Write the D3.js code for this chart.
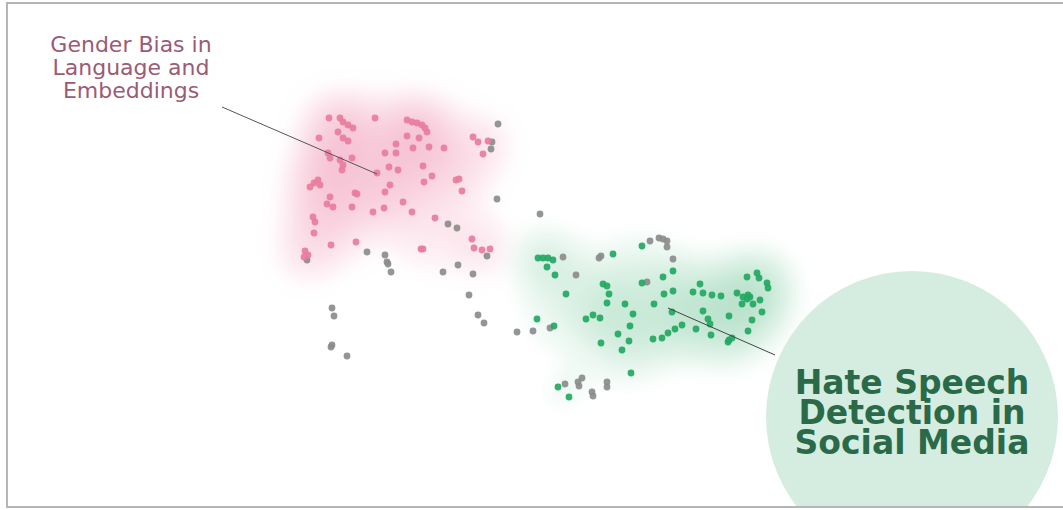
<!DOCTYPE html>
<html>
<head>
<meta charset="utf-8">
<script src="https://cdn.jsdelivr.net/npm/d3@7"></script>
<style>
  html, body { margin: 0; padding: 0; background: #fff; }
  svg { display: block; }
</style>
</head>
<body>
<div id="map"></div>
<script>
// embedding coordinates (2-d projection), one array per topic
const genderPts = [
  [329,118],[340,118],[343,122],[348,125],[353,128],[375,118],
  [407,120],[412,122],[417,123],[422,125],[425,128],[427,132],
  [338,132],[343,138],[348,141],[319,138],[407,136],[419,138],
  [396,144],[396,153],[385,153],[413,148],[429,147],[444,148],
  [328,153],[330,158],[340,160],[352,158],[343,165],[342,170],
  [389,167],[398,170],[377,173],[423,166],[432,176],[424,182],
  [390,185],[385,192],[456,180],[459,179],[462,191],
  [310,187],[314,183],[318,180],[320,185],[355,193],[357,194],
  [330,197],[327,204],[333,207],[352,207],[373,212],[384,208],
  [403,202],[412,212],[435,218],[313,217],[315,222],[314,233],
  [331,245],[356,242],[305,251],[308,255],[304,257],[421,249],[423,249],
  [472,239],[474,248],[482,250],[490,249],
  [473,137],[478,142],[483,154],[488,141]
];

const hateSpeechPts = [
  [538,258],[543,258],[548,258],[553,260],[547,267],[555,275],
  [566,294],[613,254],[642,246],[603,284],[607,286],[609,294],[607,303],
  [625,304],[633,314],[586,319],[593,315],[600,318],[630,326],[618,334],
  [629,341],[601,343],[622,350],[537,319],[554,326],[642,283],
  [673,271],[663,277],[664,294],[673,291],[700,284],
  [693,292],[703,293],[712,295],[721,296],
  [737,293],[743,297],[747,299],[748,295],[750,297],
  [747,277],[757,273],[759,278],[767,283],[768,288],
  [742,304],[753,304],[760,300],[762,312],[729,316],[654,304],[672,312],
  [703,311],[708,319],[710,324],[752,320],[748,331],
  [682,325],[675,329],[668,333],[662,338],[653,339],[696,329],[711,335],
  [729,340],[732,338],[728,342],
  [558,387],[569,397],[631,373]
];

const otherPts = [
  [498,124],[492,142],[491,149],[497,199],[540,214],[448,224],[457,228],
  [487,256],[307,260],[367,252],[385,255],[387,262],[388,264],[391,272],
  [443,272],[458,265],[473,274],[469,295],[478,315],[484,323],
  [517,332],[533,331],[550,328],[332,308],[334,316],[332,345],[331,347],[347,356],
  [563,257],[576,275],[601,256],[599,258],[647,282],
  [650,241],[659,238],[663,239],[667,241],[667,247],[673,259],
  [565,384],[578,382],[582,378],[579,386],[592,392],[593,396],[607,382],[607,387]
];

const genderLabel = ["Gender Bias in", "Language and", "Embeddings"];
const hateLabel = ["Hate Speech", "Detection in", "Social Media"];

const width = 1063, height = 510;

const x = d3.scaleLinear().domain([0, 1063]).range([0, width]);
const y = d3.scaleLinear().domain([0, 510]).range([0, height]);

const svg = d3.select("#map").append("svg")
  .attr("width", width)
  .attr("height", height);

const defs = svg.append("defs");
defs.append("filter").attr("id", "soft")
  .attr("x", "-30%").attr("y", "-30%").attr("width", "160%").attr("height", "160%")
  .append("feGaussianBlur").attr("stdDeviation", 9);
defs.append("clipPath").attr("id", "frame")
  .append("rect").attr("x", 7).attr("y", 3).attr("width", width).attr("height", 505);

const plot = svg.append("g").attr("clip-path", "url(#frame)");

function blob(points, color, opacity) {
  const contours = d3.contourDensity()
    .x(d => x(d[0]))
    .y(d => y(d[1]))
    .size([width, height])
    .bandwidth(20)
    .thresholds(10)(points);

  plot.append("g")
    .attr("filter", "url(#soft)")
    .selectAll("path")
    .data(contours)
    .join("path")
    .attr("d", d3.geoPath())
    .attr("fill", color)
    .attr("fill-opacity", opacity);
}

blob(genderPts, "#f3aac3", 0.17);
blob(hateSpeechPts, "#a6dcbd", 0.17);

function dots(points, color) {
  plot.append("g")
    .selectAll("circle")
    .data(points)
    .join("circle")
    .attr("cx", d => x(d[0]))
    .attr("cy", d => y(d[1]))
    .attr("r", 3.4)
    .attr("fill", color)
    .attr("fill-opacity", 0.92);
}

dots(otherPts, "#8c8c8c");
dots(genderPts, "#e87c9e");
dots(hateSpeechPts, "#22a862");

// annotation for the pink cluster
plot.append("line")
  .attr("x1", 222).attr("y1", 107)
  .attr("x2", x(377)).attr("y2", y(174))
  .attr("stroke", "#555")
  .attr("stroke-width", 1);

plot.append("text")
  .attr("x", 131)
  .attr("y", 52)
  .attr("text-anchor", "middle")
  .attr("font-family", "DejaVu Sans")
  .attr("font-size", 22)
  .attr("fill", "#9b5b74")
  .selectAll("tspan")
  .data(genderLabel)
  .join("tspan")
  .attr("x", 131)
  .attr("dy", (d, i) => i === 0 ? 0 : 23)
  .text(d => d);

// annotation for the green cluster
plot.append("line")
  .attr("x1", x(668)).attr("y1", y(308))
  .attr("x2", 775).attr("y2", 355)
  .attr("stroke", "#444")
  .attr("stroke-width", 1);

plot.append("circle")
  .attr("cx", 912)
  .attr("cy", 417)
  .attr("r", 146)
  .attr("fill", "#d5ede1");

plot.append("text")
  .attr("x", 912)
  .attr("y", 394)
  .attr("text-anchor", "middle")
  .attr("font-family", "DejaVu Sans")
  .attr("font-weight", "bold")
  .attr("font-size", 33)
  .attr("fill", "#2b6a48")
  .selectAll("tspan")
  .data(hateLabel)
  .join("tspan")
  .attr("x", 912)
  .attr("dy", (d, i) => i === 0 ? 0 : 30)
  .text(d => d);

// outer frame
svg.append("path")
  .attr("d", `M${width},3 H7 V507 H${width}`)
  .attr("fill", "none")
  .attr("stroke", "#b5b5b5")
  .attr("stroke-width", 2);
</script>
</body>
</html>
